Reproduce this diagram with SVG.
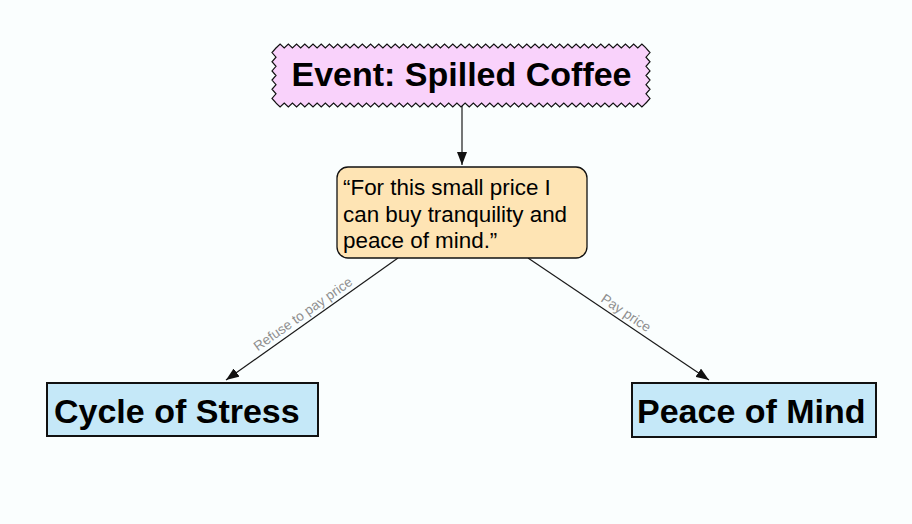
<svg xmlns="http://www.w3.org/2000/svg" width="912" height="524" viewBox="0 0 912 524">
<defs>
<style>
.bg{fill:#fafefe}
.ev{fill:#f9d2fb;stroke:#111;stroke-width:1.2;stroke-linejoin:miter}
.q{fill:#fee4b4;stroke:#111;stroke-width:1.3}
.res{fill:#c5e8f8;stroke:#111;stroke-width:2}
.big{font-family:"Liberation Sans",Arial,sans-serif;font-weight:bold;font-size:34px;fill:#000}
.mid{font-family:"Liberation Sans",Arial,sans-serif;font-size:22.4px;fill:#000}
.lbl{font-family:"Liberation Sans",Arial,sans-serif;font-size:13.6px;fill:#8f8f8f}
.edge{stroke:#1a1a1a;stroke-width:1.2;fill:none;marker-end:url(#arr)}
</style>
<marker id="arr" markerUnits="userSpaceOnUse" markerWidth="14" markerHeight="10" refX="13" refY="5" orient="auto">
<path d="M0,0 L13,5 L0,10 z" fill="#111"/>
</marker>
</defs>
<rect class="bg" x="0" y="0" width="912" height="524"/>
<g id="connectors">
<line class="edge" x1="462" y1="106" x2="462" y2="165"/>
<line class="edge" x1="398" y1="258" x2="226" y2="380"/>
<line class="edge" x1="528" y1="258" x2="709" y2="380"/>
<g transform="translate(303,314) rotate(-35.2)"><text class="lbl" x="0" y="4.5" text-anchor="middle">Refuse to pay price</text></g>
<g transform="translate(626,313) rotate(33.8)"><text class="lbl" x="0" y="4.5" text-anchor="middle">Pay price</text></g>
</g>
<g id="event">
<path class="ev" d="M276,48 l4.111,-4 4.111,4 4.111,-4 4.111,4 4.111,-4 4.111,4 4.111,-4 4.111,4 4.111,-4 4.111,4
 4.111,-4 4.111,4 4.111,-4 4.111,4 4.111,-4 4.111,4 4.111,-4 4.111,4 4.111,-4 4.111,4
 4.111,-4 4.111,4 4.111,-4 4.111,4 4.111,-4 4.111,4 4.111,-4 4.111,4 4.111,-4 4.111,4
 4.111,-4 4.111,4 4.111,-4 4.111,4 4.111,-4 4.111,4 4.111,-4 4.111,4 4.111,-4 4.111,4
 4.111,-4 4.111,4 4.111,-4 4.111,4 4.111,-4 4.111,4 4.111,-4 4.111,4 4.111,-4 4.111,4
 4.111,-4 4.111,4 4.111,-4 4.111,4 4.111,-4 4.111,4 4.111,-4 4.111,4 4.111,-4 4.111,4
 4.111,-4 4.111,4 4.111,-4 4.111,4 4.111,-4 4.111,4 4.111,-4 4.111,4 4.111,-4 4.111,4
 4.111,-4 4.111,4 4.111,-4 4.111,4 4.111,-4 4.111,4 4.111,-4 4.111,4 4.111,-4 4.111,4
 4.111,-4 4.111,4 4.111,-4 4.111,4 4.111,-4 4.111,4 4.111,-4 4.111,4 4.111,-4 4.111,4
 L646,48 l4,4.583 -4,4.583 4,4.583 -4,4.583 4,4.583 -4,4.583 4,4.583 -4,4.583 4,4.583 -4,4.583 4,4.583 -4,4.583
 L646,103 l-4.111,4 -4.111,-4 -4.111,4 -4.111,-4 -4.111,4 -4.111,-4 -4.111,4 -4.111,-4 -4.111,4 -4.111,-4
 -4.111,4 -4.111,-4 -4.111,4 -4.111,-4 -4.111,4 -4.111,-4 -4.111,4 -4.111,-4 -4.111,4 -4.111,-4
 -4.111,4 -4.111,-4 -4.111,4 -4.111,-4 -4.111,4 -4.111,-4 -4.111,4 -4.111,-4 -4.111,4 -4.111,-4
 -4.111,4 -4.111,-4 -4.111,4 -4.111,-4 -4.111,4 -4.111,-4 -4.111,4 -4.111,-4 -4.111,4 -4.111,-4
 -4.111,4 -4.111,-4 -4.111,4 -4.111,-4 -4.111,4 -4.111,-4 -4.111,4 -4.111,-4 -4.111,4 -4.111,-4
 -4.111,4 -4.111,-4 -4.111,4 -4.111,-4 -4.111,4 -4.111,-4 -4.111,4 -4.111,-4 -4.111,4 -4.111,-4
 -4.111,4 -4.111,-4 -4.111,4 -4.111,-4 -4.111,4 -4.111,-4 -4.111,4 -4.111,-4 -4.111,4 -4.111,-4
 -4.111,4 -4.111,-4 -4.111,4 -4.111,-4 -4.111,4 -4.111,-4 -4.111,4 -4.111,-4 -4.111,4 -4.111,-4
 -4.111,4 -4.111,-4 -4.111,4 -4.111,-4 -4.111,4 -4.111,-4 -4.111,4 -4.111,-4 -4.111,4 -4.111,-4
 L276,103 l-4,-4.583 4,-4.583 -4,-4.583 4,-4.583 -4,-4.583 4,-4.583 -4,-4.583 4,-4.583 -4,-4.583 4,-4.583 -4,-4.583 4,-4.583 z"/>
<text class="big" x="461.5" y="86" text-anchor="middle">Event: Spilled Coffee</text>
</g>
<g id="quote">
<rect class="q" x="337" y="167" width="250" height="91" rx="11" ry="11"/>
<text class="mid" x="343" y="195">“For this small price I</text>
<text class="mid" x="343" y="221.5">can buy tranquility and</text>
<text class="mid" x="343" y="248">peace of mind.”</text>
</g>
<g id="stress">
<rect class="res" x="47" y="383" width="271" height="53"/>
<text class="big" x="54" y="423">Cycle of Stress</text>
</g>
<g id="peace">
<rect class="res" x="632" y="383" width="244" height="54"/>
<text class="big" x="637" y="423">Peace of Mind</text>
</g>
</svg>
